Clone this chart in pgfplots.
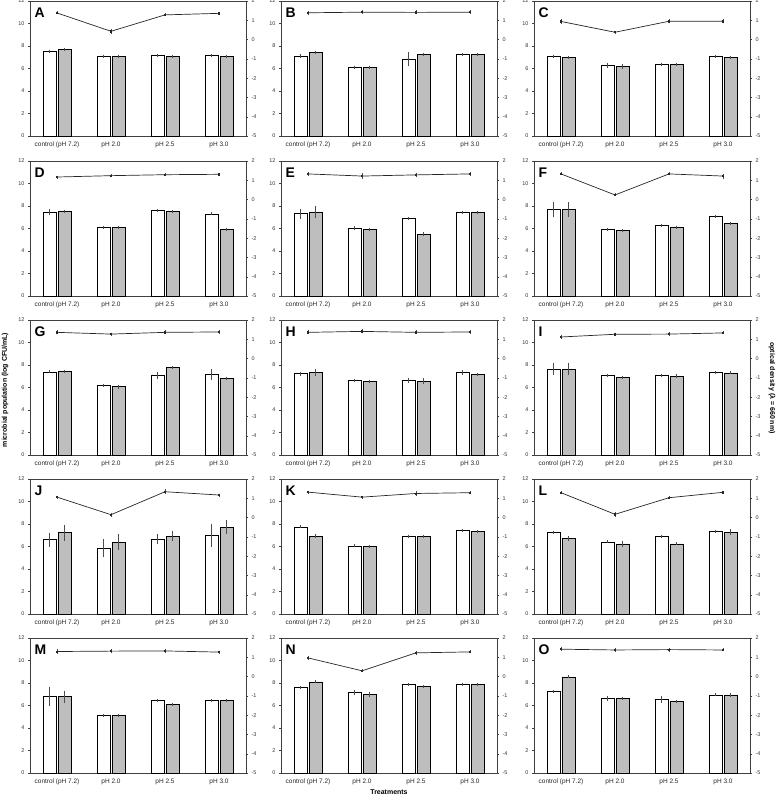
\documentclass[border=0pt]{standalone}
\usepackage{fontspec}
\setmainfont{Liberation Sans}
\usepackage{pgfplots}
\pgfplotsset{compat=1.18}
\definecolor{barg}{RGB}{190,190,190}
\pgfplotsset{
  panelbase/.style={
    scale only axis, width=216bp, height=135bp,
    xmin=-0.5, xmax=3.5,
    /pgf/number format/assume math mode=true,
    tick align=outside, major tick length=2bp,
    axis line style={black!75, line width=0.6pt},
    tick style={black!75, line width=0.4pt},
    yticklabel style={font=\fontsize{5.5}{6}\selectfont, color=black!80},
  },
  barsaxis/.style={panelbase, ymin=0, ymax=12, ytick={0,2,...,12}, ytick pos=left,
    xtick={0,1,2,3}, xticklabels={control (pH 7.2), pH 2.0, pH 2.5, pH 3.0},
    major x tick style={draw=none},
    xticklabel style={font=\fontsize{6.5}{7}\selectfont, color=black!85},
    ybar=2bp, bar width=13bp,
  },
  lineaxis/.style={panelbase, ymin=-5, ymax=2, ytick={-5,...,2},
    axis y line*=right, axis x line=none,
  },
  errsty/.style={error bars/.cd, y dir=both, y explicit,
    error bar style={black!70, line width=0.4pt},
    error mark options={black!70, line width=0.4pt, mark size=1.5bp}},
}
\newcommand{\panel}[6]{%
\begin{axis}[barsaxis, at={(#1bp,-#2bp)}, anchor=south west]
\addplot[fill=white, draw=black, line width=0.6pt, errsty] coordinates {#4};
\addplot[fill=barg, draw=black, line width=0.6pt, errsty] coordinates {#5};
\node[anchor=north west, inner sep=0pt, font=\fontsize{14}{14}\selectfont\bfseries] at (rel axis cs:0.02,0.95) {#3};
\end{axis}
\begin{axis}[lineaxis, at={(#1bp,-#2bp)}, anchor=south west]
\addplot[black!85, line width=0.7pt, mark=square*, mark size=0.6bp, errsty] coordinates {#6};
\end{axis}
}
\begin{document}
\begin{tikzpicture}
\useasboundingbox (0,0) rectangle (778bp,-799bp);
% Row 1
\panel{30}{136}{A}
{(0,7.55)+-(0,0) (1,7.1)+-(0,0) (2,7.13)+-(0,0) (3,7.13)+-(0,0)}
{(0,7.7)+-(0,0) (1,7.07)+-(0,0) (2,7.07)+-(0,0) (3,7.07)+-(0,0)}
{(0,1.38)+-(0,0) (1,0.43)+-(0,0.05) (2,1.28)+-(0,0) (3,1.36)+-(0,0)}
\panel{281}{136}{B}
{(0,7.1)+-(0,0.05) (1,6.12)+-(0,0) (2,6.84)+-(0,0.45) (3,7.28)+-(0,0)}
{(0,7.4)+-(0,0) (1,6.12)+-(0,0) (2,7.28)+-(0,0) (3,7.28)+-(0,0)}
{(0,1.39)+-(0,0.03) (1,1.42)+-(0,0.03) (2,1.41)+-(0,0.03) (3,1.42)+-(0,0.03)}
\panel{534}{136}{C}
{(0,7.07)+-(0,0) (1,6.27)+-(0,0.1) (2,6.39)+-(0,0) (3,7.07)+-(0,0)}
{(0,6.99)+-(0,0) (1,6.21)+-(0,0.1) (2,6.33)+-(0,0) (3,6.99)+-(0,0)}
{(0,0.94)+-(0,0.03) (1,0.38)+-(0,0) (2,0.95)+-(0,0.03) (3,0.95)+-(0,0.03)}
% Row 2
\panel{30}{296}{D}
{(0,7.47)+-(0,0.15) (1,6.13)+-(0,0) (2,7.59)+-(0,0) (3,7.29)+-(0,0)}
{(0,7.53)+-(0,0) (1,6.07)+-(0,0) (2,7.5)+-(0,0) (3,5.93)+-(0,0)}
{(0,1.17)+-(0,0) (1,1.24)+-(0,0) (2,1.29)+-(0,0) (3,1.31)+-(0,0)}
\panel{281}{296}{E}
{(0,7.32)+-(0,0.3) (1,6.01)+-(0,0.05) (2,6.9)+-(0,0) (3,7.41)+-(0,0)}
{(0,7.47)+-(0,0.43) (1,5.93)+-(0,0) (2,5.48)+-(0,0.05) (3,7.41)+-(0,0)}
{(0,1.33)+-(0,0.03) (1,1.22)+-(0,0.07) (2,1.28)+-(0,0.04) (3,1.33)+-(0,0.02)}
\panel{534}{296}{F}
{(0,7.7)+-(0,0.56) (1,5.9)+-(0,0) (2,6.25)+-(0,0) (3,7.08)+-(0,0)}
{(0,7.7)+-(0,0.5) (1,5.84)+-(0,0) (2,6.13)+-(0,0) (3,6.43)+-(0,0)}
{(0,1.33)+-(0,0) (1,0.24)+-(0,0) (2,1.33)+-(0,0) (3,1.22)+-(0,0.05)}
% Row 3
\panel{30}{455}{G}
{(0,7.38)+-(0,0) (1,6.16)+-(0,0) (2,7.05)+-(0,0.2) (3,7.17)+-(0,0.36)}
{(0,7.44)+-(0,0) (1,6.07)+-(0,0.05) (2,7.76)+-(0,0) (3,6.84)+-(0,0)}
{(0,1.36)+-(0,0.03) (1,1.27)+-(0,0) (2,1.36)+-(0,0.03) (3,1.38)+-(0,0.03)}
\panel{281}{455}{H}
{(0,7.23)+-(0,0.05) (1,6.61)+-(0,0) (2,6.64)+-(0,0.07) (3,7.35)+-(0,0.07)}
{(0,7.32)+-(0,0.15) (1,6.55)+-(0,0) (2,6.55)+-(0,0.12) (3,7.2)+-(0,0)}
{(0,1.36)+-(0,0.03) (1,1.41)+-(0,0.03) (2,1.36)+-(0,0.03) (3,1.38)+-(0,0.04)}
\panel{534}{455}{I}
{(0,7.64)+-(0,0.41) (1,7.05)+-(0,0) (2,7.08)+-(0,0) (3,7.32)+-(0,0)}
{(0,7.64)+-(0,0.41) (1,6.93)+-(0,0) (2,7.02)+-(0,0.05) (3,7.29)+-(0,0)}
{(0,1.12)+-(0,0.04) (1,1.26)+-(0,0) (2,1.27)+-(0,0.03) (3,1.33)+-(0,0)}
% Row 4
\panel{30}{614}{J}
{(0,6.62)+-(0,0.49) (1,5.85)+-(0,0.65) (2,6.65)+-(0,0.3) (3,7.01)+-(0,0.89)}
{(0,7.22)+-(0,0.6) (1,6.39)+-(0,0.56) (2,6.92)+-(0,0.33) (3,7.72)+-(0,0.49)}
{(0,1.06)+-(0,0) (1,0.15)+-(0,0.03) (2,1.34)+-(0,0.05) (3,1.17)+-(0,0)}
\panel{281}{614}{K}
{(0,7.75)+-(0,0) (1,6.06)+-(0,0) (2,6.92)+-(0,0) (3,7.42)+-(0,0)}
{(0,6.92)+-(0,0.05) (1,6.0)+-(0,0) (2,6.89)+-(0,0) (3,7.33)+-(0,0)}
{(0,1.32)+-(0,0) (1,1.06)+-(0,0) (2,1.25)+-(0,0.06) (3,1.29)+-(0,0)}
\panel{534}{614}{L}
{(0,7.24)+-(0,0) (1,6.41)+-(0,0) (2,6.89)+-(0,0) (3,7.33)+-(0,0)}
{(0,6.71)+-(0,0.1) (1,6.24)+-(0,0.15) (2,6.24)+-(0,0) (3,7.28)+-(0,0.15)}
{(0,1.29)+-(0,0) (1,0.17)+-(0,0.05) (2,1.03)+-(0,0) (3,1.31)+-(0,0)}
% Row 5
\panel{30}{773}{M}
{(0,6.8)+-(0,0.7) (1,5.1)+-(0,0) (2,6.44)+-(0,0) (3,6.44)+-(0,0)}
{(0,6.8)+-(0,0.4) (1,5.1)+-(0,0) (2,6.1)+-(0,0) (3,6.44)+-(0,0)}
{(0,1.3)+-(0,0.03) (1,1.32)+-(0,0.04) (2,1.33)+-(0,0.03) (3,1.27)+-(0,0)}
\panel{281}{773}{N}
{(0,7.6)+-(0,0) (1,7.15)+-(0,0.1) (2,7.85)+-(0,0) (3,7.9)+-(0,0)}
{(0,8.1)+-(0,0) (1,7.0)+-(0,0.1) (2,7.7)+-(0,0) (3,7.85)+-(0,0)}
{(0,0.97)+-(0,0.03) (1,0.3)+-(0,0) (2,1.23)+-(0,0.03) (3,1.28)+-(0,0)}
\panel{534}{773}{O}
{(0,7.25)+-(0,0) (1,6.6)+-(0,0.1) (2,6.55)+-(0,0.15) (3,6.95)+-(0,0)}
{(0,8.55)+-(0,0) (1,6.6)+-(0,0) (2,6.35)+-(0,0) (3,6.95)+-(0,0.05)}
{(0,1.42)+-(0,0.03) (1,1.38)+-(0,0.03) (2,1.4)+-(0,0.03) (3,1.38)+-(0,0)}
% axis titles
\node[rotate=90, font=\fontsize{7}{8}\selectfont\bfseries] at (5bp,-390bp) {microbial population (log CFU/mL)};
\node[rotate=-90, font=\fontsize{7}{8}\selectfont\bfseries] at (772bp,-388bp) {optical density (λ = 660 nm)};
\node[font=\fontsize{7}{8}\selectfont\bfseries] at (389bp,-792bp) {Treatments};
\end{tikzpicture}
\end{document}
